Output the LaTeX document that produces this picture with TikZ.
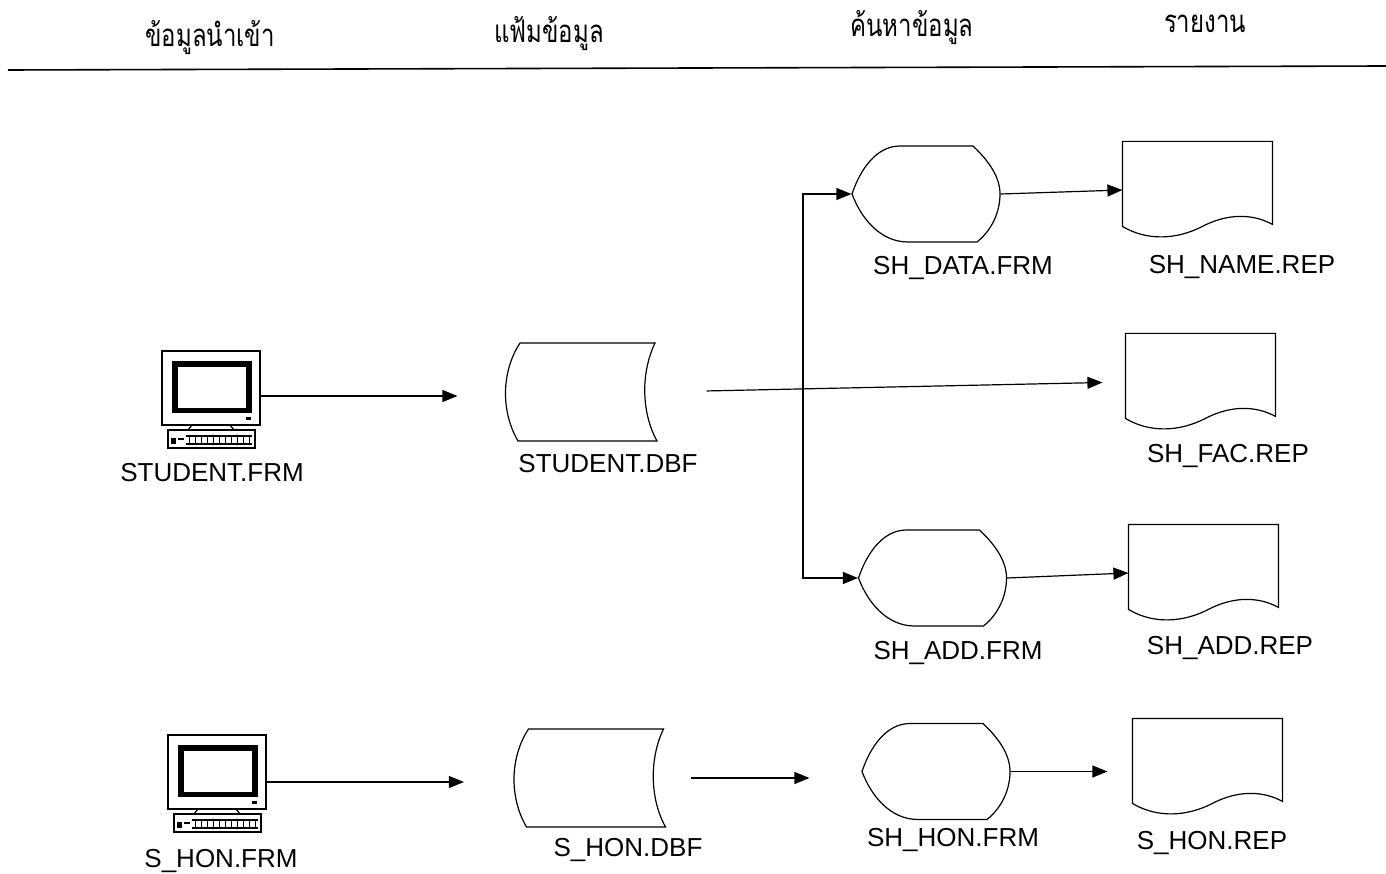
\documentclass[tikz,border=0pt]{standalone}
\usepackage{fontspec}
\setmainfont{Liberation Sans}
\newfontfamily\thaifont[Script=Thai]{Loma}
\usetikzlibrary{arrows.meta,calc}
\newcommand\dispshape[1]{\draw[shift={(#1.center)}] (-74,0) .. controls (-66,-24) and (-50,-48) .. (-26,-48) -- (47,-48) .. controls (64,-32) and (74,-16) .. (74,0) .. controls (74,18) and (66,36) .. (51,48) -- (-18,48) .. controls (-46,48) and (-65,24) .. (-74,0) -- cycle;}
\newcommand\storeshape[1]{\draw[shift={(#1.center)}] (-61,-49) -- (74,-49) .. controls (60,-20) and (60,20) .. (76,49) -- (-63,49) .. controls (-80,20) and (-80,-20) .. (-61,-49) -- cycle;}
\newcommand\docshape[1]{\draw[shift={(#1.north west)}] (0,85) -- (0,0) -- (150,0) -- (150,83) .. controls (130,72) and (105,72) .. (80,85) .. controls (55,98) and (25,100) .. (0,85) -- cycle;}
\newcommand\tall[1]{\scalebox{1}[1.3]{#1}}
\begin{document}
\begin{tikzpicture}[x=1pt,y=-1pt,line width=1.2pt,
  lbl/.style={font=\fontsize{26}{30}\selectfont,inner sep=0pt,text height=18.6pt,text depth=0pt},
  hdr/.style={font=\thaifont\fontsize{24}{28}\selectfont,inner sep=0pt},
  arr/.style={-{Triangle[length=15pt,width=12pt]}},
  ghost/.style={draw=none,inner sep=0pt},
  dispbox/.style={ghost,minimum width=148pt,minimum height=96pt},
  storebox/.style={ghost,minimum width=152pt,minimum height=98pt},
  docbox/.style={ghost,minimum width=150pt,minimum height=96pt},
  compbox/.style={ghost,minimum width=98pt,minimum height=90pt},
  computer/.pic={
    \draw (0,0) rectangle (98,74);
    \fill (10,10) rectangle (90,62);
    \fill[white] (16,15.5) rectangle (83.5,57);
    \fill (84,66) rectangle (89,69);
    \draw (30,74) -- (26,79) -- (72,79) -- (68,74);
    \draw (6,79) rectangle (93,97);
    \draw (24,85) -- (90,85);
    \draw (24,93) -- (90,93);
    \foreach \i in {0,...,10} \draw[line width=0.9pt] (27+6*\i,86) -- (27+6*\i,92);
    \fill (9,87) rectangle (14,93);
    \draw (16,88) -- (22,88);
  }]
\useasboundingbox (0,0) rectangle (1386,874);
\fill[white] (0,0) rectangle (1386,874);
% header
\node[hdr] (h1) at (210,38) {\tall{ข้อมูลนำเข้า}};
\node[hdr] (h2) at (549,34) {\tall{แฟ้มข้อมูล}};
\node[hdr] (h3) at (912,28) {\tall{ค้นหาข้อมูล}};
\node[hdr] (h4) at (1205,24) {\tall{รายงาน}};
\draw[line width=1.6pt] (8,70) -- (1386,66);
% row 1
\pic at (162,351) {computer};
\node[compbox] (stud) at (211,396) {};
\node[lbl] (lstud) at (212,472) {STUDENT.FRM};
\node[storebox] (sdbf) at (581,392) {};
\storeshape{sdbf}
\node[lbl] (lsdbf) at (608,463) {STUDENT.DBF};
\node[dispbox] (shdata) at (926,194) {};
\dispshape{shdata}
\node[lbl] (lshdata) at (963,265) {SH\_DATA.FRM};
\node[docbox] (name) at (1198,190) {};
\docshape{name}
\node[lbl] (lname) at (1242,264) {SH\_NAME.REP};
\node[docbox] (fac) at (1201,382) {};
\docshape{fac}
\node[lbl] (lfac) at (1228,453) {SH\_FAC.REP};
\node[dispbox] (shadd) at (932.5,578) {};
\dispshape{shadd}
\node[lbl] (lshadd) at (958,650) {SH\_ADD.FRM};
\node[docbox] (addrep) at (1204,573) {};
\docshape{addrep}
\node[lbl] (laddrep) at (1230,645) {SH\_ADD.REP};
% row 2
\pic at (168,735) {computer};
\node[compbox] (shonfrm) at (217,782) {};
\node[lbl] (lshonfrm) at (221,858) {S\_HON.FRM};
\node[storebox] (shondbf) at (589.5,778) {};
\storeshape{shondbf}
\node[lbl] (lshondbf) at (628,847) {S\_HON.DBF};
\node[dispbox] (shhon) at (936,771.5) {};
\dispshape{shhon}
\node[lbl] (lshhon) at (953,837) {SH\_HON.FRM};
\node[docbox] (shonrep) at (1208,767) {};
\docshape{shonrep}
\node[lbl] (lshonrep) at (1212,840) {S\_HON.REP};
% connectors
\draw[arr,shorten >=47pt] (stud.east) -- (stud.east -| sdbf.west);
\draw[arr,shorten <=49pt,shorten >=23pt] (sdbf.east) -- (fac.west);
\coordinate (jn) at (803,389);
\draw[arr] (jn) |- (shdata.west);
\draw[arr] (jn) |- (shadd.west);
\draw[arr] (shdata.east) -- (name.west);
\draw[arr] (shadd.east) -- (addrep.west);
\draw[arr,shorten >=49pt] (shonfrm.east) -- (shonfrm.east -| shondbf.west);
\draw[arr,shorten <=25pt,shorten >=52pt] (shondbf.east) -- (shondbf.east -| shhon.west);
\draw[arr,shorten >=25pt] (shhon.east) -- (shhon.east -| shonrep.west);
\end{tikzpicture}
\end{document}
